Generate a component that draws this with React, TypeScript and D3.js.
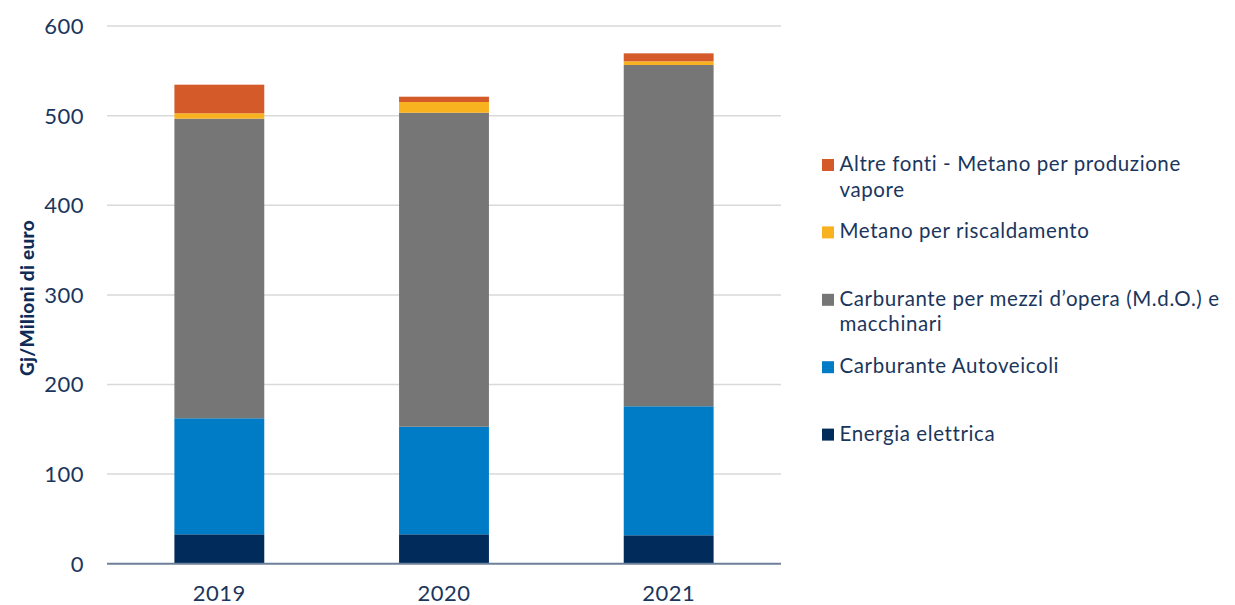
import * as d3 from 'd3';
import React from 'react';

const years = ['2019', '2020', '2021'];
const energiaElettrica = [32.8, 32.8, 31.7];
const carburanteAutoveicoli = [129.5, 120.1, 144];
const carburanteMdo = [334.4, 350.4, 380.9];
const metanoRiscaldamento = [6, 12, 4.1];
const altreFonti = [31.9, 5.9, 8.9];

const yTicks = [0, 100, 200, 300, 400, 500, 600];

const seriesKeys = ['energia', 'autoveicoli', 'mdo', 'metano', 'altre'];
const seriesColors: Record<string, string> = {
  energia: '#002b5a',
  autoveicoli: '#007bc6',
  mdo: '#767676',
  metano: '#f9b21f',
  altre: '#d45a29',
};

// legend top to bottom, each line of a label as its own string
const legendItems = [
  { key: 'altre', lines: ['Altre fonti - Metano per produzione', 'vapore'] },
  { key: 'metano', lines: ['Metano per riscaldamento'] },
  { key: 'mdo', lines: ['Carburante per mezzi d\u2019opera (M.d.O.) e', 'macchinari'] },
  { key: 'autoveicoli', lines: ['Carburante Autoveicoli'] },
  { key: 'energia', lines: ['Energia elettrica'] },
];

const width = 1235;
const height = 605;
const font = 'Lato, "Open Sans", sans-serif';
const textColor = '#1b365d';

const App: React.FC = () => {
  const rows = years.map((year, i) => ({
    year,
    energia: energiaElettrica[i],
    autoveicoli: carburanteAutoveicoli[i],
    mdo: carburanteMdo[i],
    metano: metanoRiscaldamento[i],
    altre: altreFonti[i],
  }));

  const stacked = d3.stack<any>().keys(seriesKeys)(rows);

  const x = d3
    .scaleBand()
    .domain(years)
    .range([107, 781])
    .paddingInner(0.6)
    .paddingOuter(0.3);

  const y = d3.scaleLinear().domain([0, 600]).range([563.7, 26.1]);

  return (
    <svg
      width={width}
      height={height}
      style={{ position: 'absolute', left: 0, top: 0, background: 'white' }}
      fontFamily={font}
    >
      {yTicks.map((t) => (
        <g key={t}>
          {t > 0 && (
            <line
              x1={107}
              x2={781}
              y1={y(t)}
              y2={y(t)}
              stroke='#d9d9d9'
              strokeWidth={1.5}
            />
          )}
          <text
            x={84}
            y={y(t)}
            dy='0.36em'
            textAnchor='end'
            fontSize={22}
            letterSpacing={0.5}
            fill={textColor}
          >
            {t}
          </text>
        </g>
      ))}

      {stacked.map((layer) => (
        <g key={layer.key} fill={seriesColors[layer.key]}>
          {layer.map((d, i) => (
            <rect
              key={i}
              x={x(years[i])}
              width={x.bandwidth()}
              y={y(d[1])}
              height={y(d[0]) - y(d[1])}
            />
          ))}
        </g>
      ))}

      <line x1={107} x2={781} y1={y(0)} y2={y(0)} stroke='#6e8099' strokeWidth={2} />

      {years.map((yr) => (
        <text
          key={yr}
          x={(x(yr) as number) + x.bandwidth() / 2}
          y={601}
          textAnchor='middle'
          fontSize={22}
          letterSpacing={0.5}
          fill={textColor}
        >
          {yr}
        </text>
      ))}

      <text
        transform='translate(34,298) rotate(-90)'
        textAnchor='middle'
        fontSize={19}
        fontWeight={900}
        letterSpacing={0.3}
        fill='#0f2c56'
      >
        Gj/Milioni di euro
      </text>

      {legendItems.map((item, i) => {
        const base = 171 + i * 67.4;
        return (
          <g key={item.key}>
            <rect x={822} y={base - 12} width={12} height={12} fill={seriesColors[item.key]} />
            {item.lines.map((ln, j) => (
              <text
                key={j}
                x={839.5}
                y={base + j * 25.5}
                fontSize={20.5}
                letterSpacing={0.6}
                fill={textColor}
              >
                {ln}
              </text>
            ))}
          </g>
        );
      })}
    </svg>
  );
};

export default App;
